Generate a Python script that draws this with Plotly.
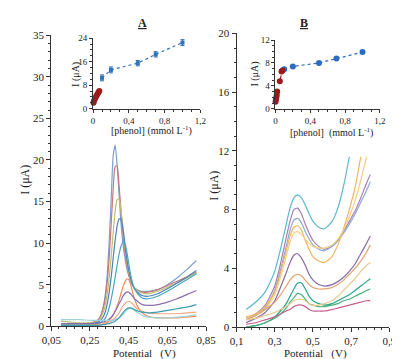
import plotly.graph_objects as go

# ---------------- data ----------------
potential_a = [0.10, 0.15, 0.20, 0.25, 0.28, 0.30, 0.32, 0.33, 0.34, 0.35, 0.36, 0.37, 0.38, 0.39, 0.40,
               0.41, 0.42, 0.43, 0.44, 0.45, 0.46, 0.47, 0.48, 0.50, 0.52, 0.55, 0.60, 0.65, 0.70, 0.75, 0.80]
curve_a1 = [0.2, 0.2, 0.2, 0.3, 0.5, 0.9, 2.5, 4.0, 6.5, 10.5, 15.5, 20.5, 21.8, 19.5, 16.0,
            12.5, 10.0, 8.3, 7.0, 6.1, 5.4, 4.9, 4.6, 4.3, 4.2, 4.2, 4.4, 5.0, 5.8, 6.8, 7.9]
curve_a2 = [0.3, 0.3, 0.3, 0.4, 0.6, 1.0, 2.3, 3.5, 5.5, 8.5, 12.5, 16.5, 19.2, 19.3, 17.0,
            14.0, 11.2, 9.0, 7.4, 6.3, 5.5, 5.0, 4.6, 4.3, 4.1, 4.1, 4.4, 4.9, 5.4, 5.9, 6.5]
curve_a3 = [0.6, 0.5, 0.4, 0.4, 0.5, 0.8, 1.8, 2.7, 4.0, 6.0, 8.5, 11.3, 13.8, 15.2, 15.3,
            14.0, 11.8, 9.6, 7.8, 6.5, 5.6, 5.0, 4.6, 4.2, 4.0, 3.9, 4.2, 4.7, 5.2, 5.8, 6.4]
curve_a4 = [0.2, 0.2, 0.2, 0.3, 0.4, 0.6, 1.2, 1.8, 2.8, 4.2, 6.0, 8.2, 10.3, 12.0, 12.9,
            12.9, 11.8, 10.0, 8.2, 6.8, 5.8, 5.0, 4.5, 4.0, 3.7, 3.6, 3.9, 4.5, 5.2, 5.9, 6.7]
curve_a5 = [0.2, 0.2, 0.2, 0.2, 0.3, 0.4, 0.7, 1.0, 1.5, 2.3, 3.3, 4.5, 5.9, 7.3, 8.6,
            9.6, 10.1, 10.0, 9.0, 7.6, 6.2, 5.2, 4.5, 3.8, 3.4, 3.3, 3.6, 4.2, 4.9, 5.6, 6.3]
curve_a6 = [0.1, 0.1, 0.1, 0.1, 0.2, 0.2, 0.3, 0.4, 0.5, 0.7, 1.0, 1.3, 1.8, 2.4, 3.1,
            3.9, 4.7, 5.3, 5.7, 5.6, 5.0, 4.1, 3.3, 2.2, 1.6, 1.2, 1.0, 1.0, 1.0, 1.1, 1.2]
curve_a7 = [0.3, 0.3, 0.3, 0.3, 0.3, 0.4, 0.5, 0.6, 0.7, 0.9, 1.1, 1.4, 1.8, 2.2, 2.7,
            3.1, 3.6, 3.9, 4.1, 4.1, 3.9, 3.6, 3.3, 2.9, 2.6, 2.5, 2.6, 2.9, 3.3, 3.8, 4.3]
curve_a8 = [0.1, 0.1, 0.1, 0.1, 0.1, 0.2, 0.2, 0.3, 0.4, 0.5, 0.6, 0.8, 1.0, 1.3, 1.6,
            2.0, 2.4, 2.7, 2.9, 3.0, 2.9, 2.7, 2.4, 2.0, 1.8, 1.6, 1.5, 1.5, 1.5, 1.6, 1.7]
curve_a9 = [0.8, 0.8, 0.8, 0.7, 0.7, 0.7, 0.7, 0.7, 0.7, 0.7, 0.7, 0.7, 0.8, 0.9, 1.0,
            1.2, 1.4, 1.7, 1.9, 2.1, 2.2, 2.1, 1.9, 1.6, 1.3, 1.1, 1.0, 1.0, 1.1, 1.2, 1.4]
curve_a10 = [0.1, 0.1, 0.1, 0.1, 0.1, 0.1, 0.2, 0.2, 0.3, 0.3, 0.4, 0.5, 0.6, 0.8, 1.0,
             1.3, 1.6, 1.9, 2.1, 2.2, 2.2, 2.1, 2.0, 1.8, 1.7, 1.6, 1.7, 1.9, 2.1, 2.3, 2.6]
curves_a = [curve_a1, curve_a2, curve_a3, curve_a4, curve_a5, curve_a6, curve_a7, curve_a8, curve_a9, curve_a10]

potential_b = [0.15, 0.20, 0.25, 0.30, 0.33, 0.36, 0.38, 0.40, 0.42, 0.44, 0.46, 0.48, 0.50,
               0.53, 0.56, 0.60, 0.63, 0.66, 0.69, 0.72, 0.75, 0.78, 0.80]
curve_b1 = [1.2, 1.7, 2.4, 3.8, 5.3, 7.0, 8.1, 8.8, 9.0, 8.8, 8.3, 7.7, 7.2,
            6.8, 6.7, 7.2, 8.1, 9.6, 11.6, None, None, None, None]
curve_b2 = [0.6, 0.9, 1.5, 2.8, 4.3, 6.1, 7.2, 8.0, 8.1, 7.7, 7.0, 6.4, 5.9,
            5.5, 5.3, 5.5, 5.9, 6.5, 7.2, 7.9, 8.8, 9.8, 10.4]
curve_b3 = [0.5, 0.8, 1.3, 2.5, 3.9, 5.5, 6.6, 7.3, 7.4, 7.1, 6.5, 6.0, 5.6,
            5.3, 5.2, 5.5, 5.9, 6.4, 7.0, 7.7, 8.5, 9.3, 9.9]
curve_b4 = [0.7, 0.9, 1.4, 2.4, 3.7, 5.2, 6.2, 6.8, 6.9, 6.6, 5.9, 5.3, 4.8,
            4.5, 4.4, 4.8, 5.6, 6.7, 8.0, 9.5, 11.6, None, None]
curve_b5 = [0.6, 0.8, 1.2, 2.2, 3.4, 4.8, 5.8, 6.4, 6.5, 6.3, 6.0, 5.7, 5.5,
            5.4, 5.4, 5.6, 6.0, 6.6, 7.5, 8.6, 10.0, 11.6, None]
curve_b6 = [0.3, 0.6, 1.0, 1.8, 2.7, 3.7, 4.4, 4.9, 5.0, 4.7, 4.2, 3.6, 3.2,
            2.9, 2.8, 2.9, 3.1, 3.4, 3.8, 4.3, 5.0, 5.7, 6.2]
curve_b7 = [0.5, 0.8, 1.2, 1.7, 2.2, 2.8, 3.2, 3.5, 3.6, 3.5, 3.2, 2.9, 2.7,
            2.6, 2.6, 2.7, 2.9, 3.2, 3.6, 4.0, 4.5, 5.1, 5.6]
curve_b8 = [0.0, 0.1, 0.3, 0.7, 1.1, 1.6, 2.1, 2.6, 3.0, 3.0, 2.6, 2.1, 1.8,
            1.6, 1.5, 1.6, 1.8, 2.0, 2.2, 2.5, 2.8, 3.1, 3.3]
curve_b9 = [0.0, 0.1, 0.3, 0.6, 0.9, 1.3, 1.7, 2.0, 2.3, 2.2, 1.9, 1.6, 1.5,
            1.4, 1.4, 1.5, 1.6, 1.8, 1.9, 2.1, 2.3, 2.5, 2.6]
curve_b10 = [0.2, 0.3, 0.5, 0.7, 0.9, 1.1, 1.2, 1.4, 1.5, 1.5, 1.4, 1.2, 1.1,
             1.1, 1.1, 1.2, 1.3, 1.4, 1.5, 1.6, 1.7, 1.8, 1.8]
curve_b11 = [0.5, 0.6, 0.8, 1.0, 1.2, 1.4, 1.6, 1.8, 1.9, 1.9, 1.8, 1.6, 1.5,
             1.5, 1.6, 1.8, 2.1, 2.5, 2.9, 3.3, 3.8, 4.2, 4.4]
curves_b = [curve_b1, curve_b2, curve_b3, curve_b4, curve_b5, curve_b6, curve_b7, curve_b8,
            curve_b9, curve_b10, curve_b11]

# insets: [phenol] (mmol/L) vs I (uA)
inset_a_low_x = [0.005, 0.01, 0.02, 0.03, 0.04, 0.05, 0.06, 0.07]
inset_a_low_y = [2.0, 2.6, 3.3, 3.9, 4.5, 5.0, 5.6, 6.0]
inset_a_high_x = [0.1, 0.2, 0.5, 0.7, 1.0]
inset_a_high_y = [10.5, 13.2, 15.5, 18.5, 22.5]
inset_a_high_err = [1.0, 1.0, 0.9, 0.9, 1.0]
inset_b_low_x = [0.002, 0.005, 0.01, 0.015, 0.02, 0.05, 0.07, 0.08]
inset_b_low_y = [1.2, 1.6, 2.0, 2.4, 3.0, 4.8, 6.5, 6.7]
inset_b_high_x = [0.1, 0.2, 0.5, 0.7, 1.0]
inset_b_high_y = [6.9, 7.4, 8.0, 8.8, 9.9]

# tick labels
ticks_a_x = [0.05, 0.25, 0.45, 0.65, 0.85]
ticks_a_x_text = ["0,05", "0,25", "0,45", "0,65", "0,85"]
ticks_b_x = [0.1, 0.3, 0.5, 0.7, 0.9]
ticks_b_x_text = ["0,1", "0,3", "0,5", "0,7", "0,9"]
ticks_inset_x = [0, 0.4, 0.8, 1.2]
ticks_inset_x_text = ["0", "0,4", "0,8", "1,2"]

# ---------------- styles ----------------
colors_a = ["#7d9fd3", "#c77779", "#bcbf6c", "#4f81bd", "#46a7c4",
            "#f08d55", "#8a6fae", "#f1aa8a", "#9fd2de", "#3c9fb0"]
colors_b = ["#5db6cf", "#a57fb3", "#8ea9d6", "#f0b45a", "#f3cf80",
            "#8569a8", "#e5a26c", "#22a38a", "#49b07a", "#c55f8c", "#e6cb8e"]

FONT = "Liberation Serif"
W, H = 400, 359

def px(x):
    return x / W

def py(y):
    return 1 - y / H

fig = go.Figure()

for c, col in zip(curves_a, colors_a):
    fig.add_trace(go.Scatter(x=potential_a, y=c, mode="lines", xaxis="x", yaxis="y",
                             line=dict(color=col, width=1.2, shape="spline", smoothing=0.6),
                             showlegend=False, hoverinfo="skip"))
for c, col in zip(curves_b, colors_b):
    fig.add_trace(go.Scatter(x=potential_b, y=c, mode="lines", xaxis="x2", yaxis="y2",
                             line=dict(color=col, width=1.2, shape="spline", smoothing=0.6),
                             showlegend=False, hoverinfo="skip", connectgaps=False))

red = "#9b1b1b"
blue_a = "#2f72b5"
blue_b = "#2b6cc0"

# inset A
fig.add_trace(go.Scatter(x=inset_a_high_x, y=inset_a_high_y, mode="lines+markers", xaxis="x3", yaxis="y3",
                         line=dict(color=blue_a, width=1.2, dash="dot"),
                         marker=dict(symbol="square", size=4, color=blue_a),
                         error_y=dict(type="data", array=inset_a_high_err, color=blue_a, thickness=1, width=2),
                         showlegend=False, cliponaxis=False))
fig.add_trace(go.Scatter(x=inset_a_low_x, y=inset_a_low_y, mode="lines+markers", xaxis="x3", yaxis="y3",
                         line=dict(color=red, width=1.2, dash="dot"),
                         marker=dict(symbol="circle", size=6, color=red),
                         showlegend=False, cliponaxis=False))
# inset B
fig.add_trace(go.Scatter(x=inset_b_high_x, y=inset_b_high_y, mode="lines+markers", xaxis="x4", yaxis="y4",
                         line=dict(color=blue_b, width=1.2, dash="dot"),
                         marker=dict(symbol="circle", size=6, color=blue_b),
                         showlegend=False, cliponaxis=False))
fig.add_trace(go.Scatter(x=inset_b_low_x, y=inset_b_low_y, mode="lines+markers", xaxis="x4", yaxis="y4",
                         line=dict(color=red, width=1.2, dash="dash"),
                         marker=dict(symbol="circle", size=6, color=red),
                         showlegend=False, cliponaxis=False))

axcol = "#333333"
main_tick = dict(showline=True, linecolor=axcol, linewidth=1, ticks="outside", ticklen=4,
                 tickcolor=axcol, showgrid=False, zeroline=False,
                 tickfont=dict(family=FONT, size=11, color="#222222"))
inset_tick = dict(showline=True, linecolor=axcol, linewidth=1, ticks="outside", ticklen=3,
                  tickcolor=axcol, showgrid=False, zeroline=False,
                  tickfont=dict(family=FONT, size=9, color="#222222"))

fig.update_layout(
    width=W, height=H, margin=dict(l=0, r=0, t=0, b=0),
    paper_bgcolor="white", plot_bgcolor="rgba(0,0,0,0)",
    xaxis=dict(domain=[px(35), px(198)], range=[0.05, 0.85], anchor="y",
               tickvals=ticks_a_x, ticktext=ticks_a_x_text,
               minor=dict(ticks="outside", ticklen=2, tickcolor=axcol, dtick=0.04, tick0=0.05),
               **main_tick),
    yaxis=dict(domain=[py(323), py(22)], range=[0, 35], anchor="x", dtick=5,
               minor=dict(ticks="outside", ticklen=2, tickcolor=axcol, dtick=1),
               **main_tick),
    xaxis2=dict(domain=[px(230), px(391)], range=[0.1, 0.9], anchor="y2",
                tickvals=ticks_b_x, ticktext=ticks_b_x_text,
                minor=dict(ticks="outside", ticklen=2, tickcolor=axcol, dtick=0.04, tick0=0.1),
                **main_tick),
    yaxis2=dict(domain=[py(324), py(20)], range=[0, 20], anchor="x2", dtick=4,
                minor=dict(ticks="outside", ticklen=2, tickcolor=axcol, dtick=1),
                **main_tick),
    xaxis3=dict(domain=[px(79), px(192)], range=[0, 1.2], anchor="y3",
                tickvals=ticks_inset_x, ticktext=ticks_inset_x_text,
                minor=dict(ticks="outside", ticklen=2, tickcolor=axcol, dtick=0.1),
                **inset_tick),
    yaxis3=dict(domain=[py(98), py(25)], range=[0, 24], anchor="x3", dtick=8,
                minor=dict(ticks="outside", ticklen=2, tickcolor=axcol, dtick=2),
                **inset_tick),
    xaxis4=dict(domain=[px(271), px(381)], range=[0, 1.2], anchor="y4",
                tickvals=ticks_inset_x, ticktext=ticks_inset_x_text,
                minor=dict(ticks="outside", ticklen=2, tickcolor=axcol, dtick=0.1),
                **inset_tick),
    yaxis4=dict(domain=[py(98), py(27)], range=[0, 12], anchor="x4", dtick=4,
                minor=dict(ticks="outside", ticklen=2, tickcolor=axcol, dtick=1),
                **inset_tick),
)

def label(text, x, y, size=11, angle=0):
    fig.add_annotation(text=text, x=px(x), y=py(y), xref="paper", yref="paper",
                       showarrow=False, textangle=angle,
                       font=dict(family=FONT, size=size, color="#222222"),
                       xanchor="center", yanchor="middle")

label("<b><u>A</u></b>", 131, 9, size=12)
label("<b><u>B</u></b>", 301, 9, size=12)
label("I (μA)", 8, 172, size=12, angle=-90)
label("I (μA)", 206, 178, size=12, angle=-90)
label("Potential   (V)", 133, 351, size=11)
label("Potential   (V)", 313, 351, size=11)
label("I (μA)", 61, 62, size=10, angle=-90)
label("I (μA)", 249, 62, size=10, angle=-90)
label("[phenol] (mmol L<sup>-1</sup>)", 140, 121, size=10)
label("[phenol]  (mmol L<sup>-1</sup>)", 330, 123, size=10)

fig.write_html("out.html")
